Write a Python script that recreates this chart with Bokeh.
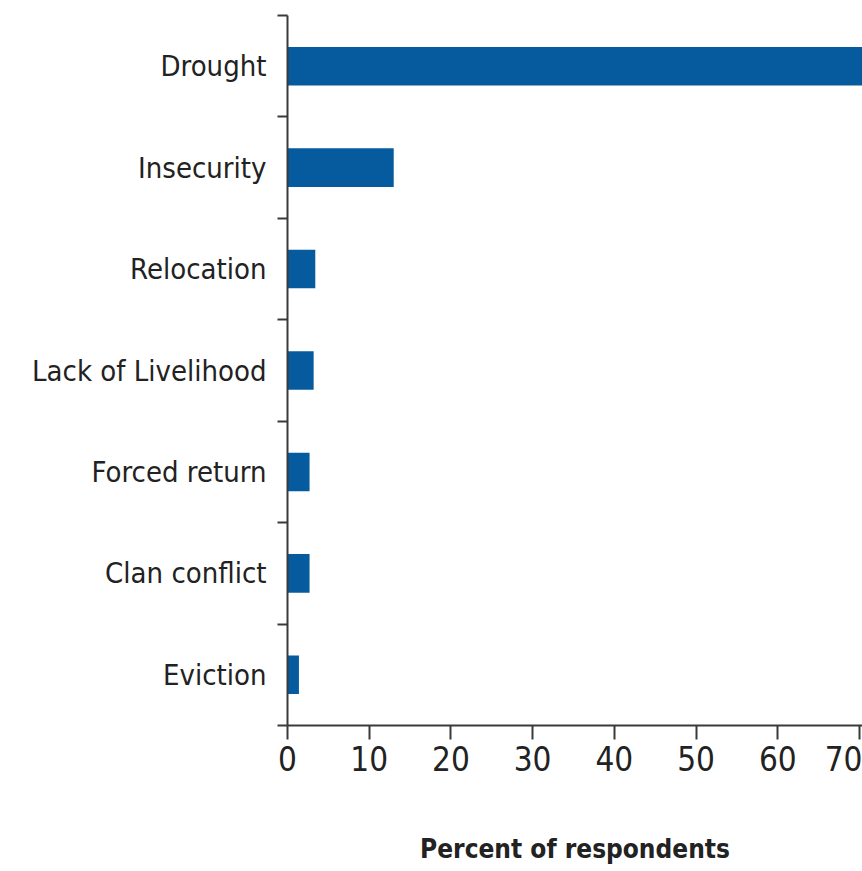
from bokeh.plotting import figure
from bokeh.models import ColumnDataSource, FixedTicker, Range1d
from bokeh.embed import file_html
from bokeh.resources import INLINE

# Data (top to bottom)
categories = ["Drought", "Insecurity", "Relocation", "Lack of Livelihood",
              "Forced return", "Clan conflict", "Eviction"]
percent = [74.0, 13.0, 3.4, 3.2, 2.7, 2.7, 1.4]
x_ticks = [0, 10, 20, 30, 40, 50, 60, 70]
x_label = "Percent of respondents"

n = len(categories)
ypos = [n - i for i in range(n)]
src = ColumnDataSource(dict(cat=categories, pct=percent, y=ypos))

FONT = "DejaVu Sans Condensed, Roboto Condensed, Liberation Sans Narrow, Roboto"
BAR = "#065b9e"
AX = "#3a3a3a"

p = figure(width=862, height=871, output_backend="svg", toolbar_location=None,
           x_range=Range1d(0, 70.37), y_range=Range1d(0.5, n + 0.5),
           min_border_left=287, min_border_right=0, min_border_top=15,
           min_border_bottom=146)
p.hbar(y="y", right="pct", left=0, height=0.38, source=src,
       fill_color=BAR, line_color=None)

p.xgrid.visible = False
p.ygrid.visible = False
p.outline_line_color = None

# y axis: labels at centres, ticks at boundaries
ya = p.yaxis[0]
ya.ticker = FixedTicker(ticks=ypos, minor_ticks=[k + 0.5 for k in range(n + 1)])
ya.major_label_overrides = {y: c for y, c in zip(ypos, categories)}
ya.major_tick_line_color = None
ya.major_tick_out = 10
ya.major_tick_in = 0
ya.major_label_standoff = 11
ya.minor_tick_out = 10
ya.minor_tick_in = 0
ya.minor_tick_line_color = AX
ya.minor_tick_line_width = 2
ya.axis_line_color = AX
ya.axis_line_width = 2
ya.major_label_text_font = FONT
ya.major_label_text_font_size = "29px"
ya.major_label_text_color = "#222222"

xa = p.xaxis[0]
xa.ticker = FixedTicker(ticks=x_ticks)
xa.major_tick_out = 14
xa.major_tick_in = 0
xa.major_tick_line_color = AX
xa.major_tick_line_width = 2
xa.minor_tick_line_color = None
xa.axis_line_color = AX
xa.axis_line_width = 2
xa.major_label_standoff = 6
xa.major_label_text_font = FONT
xa.major_label_text_font_size = "33px"
xa.major_label_text_color = "#222222"
xa.axis_label = x_label
xa.axis_label_text_font = FONT
xa.axis_label_text_font_size = "26px"
xa.axis_label_text_font_style = "bold"
xa.axis_label_text_color = "#222222"
xa.axis_label_standoff = 60

open("out.html", "w").write(file_html(p, INLINE))
